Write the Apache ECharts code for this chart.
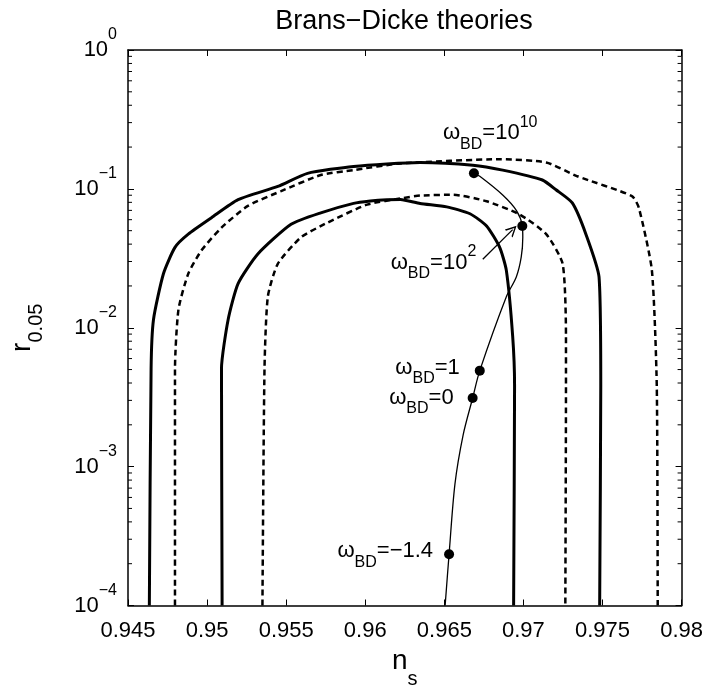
<!DOCTYPE html>
<html><head><meta charset="utf-8">
<script src="https://cdn.jsdelivr.net/npm/echarts@6/dist/echarts.min.js"></script>
<style>html,body{margin:0;padding:0;background:#fff}#c{width:706px;height:694px}</style>
</head><body><div id="c"></div>
<script>
// ---- data ----
const xTickValues = [0.945, 0.95, 0.955, 0.96, 0.965, 0.97, 0.975, 0.98];
const yTickExponents = [-4, -3, -2, -1, 0];
const minorMultipliers = [2, 3, 4, 5, 6, 7, 8, 9];

const outerSolid = [
  [0.94635,1e-4],[0.94646,5.07e-3],[0.94661,0.01143],[0.94724,0.0245],[0.94797,0.0379],
  [0.94881,0.0472],[0.95028,0.0620],[0.95196,0.0836],[0.95447,0.1041],[0.95635,0.1294],
  [0.95926,0.1450],[0.96347,0.1549],[0.96680,0.1482],[0.96869,0.1365],[0.97120,0.1159],
  [0.97206,0.0985],[0.97309,0.0792],[0.97395,0.0472],[0.97478,0.0232],[0.97489,3.84e-3],
  [0.97482,1e-4]
];
const innerSolid = [
  [0.95095,1e-4],[0.95091,5.07e-3],[0.95133,0.01143],[0.95196,0.0208],[0.95321,0.0340],
  [0.95531,0.0556],[0.95719,0.0672],[0.95926,0.0786],[0.96032,0.0818],[0.96138,0.0836],
  [0.96222,0.0840],[0.96347,0.0785],[0.96515,0.0742],[0.96662,0.0662],[0.96767,0.0541],
  [0.96850,0.0379],[0.96892,0.0259],[0.96932,8.7e-3],[0.96944,3.84e-3],[0.96938,1e-4]
];
const outerDashed = [
  [0.94797,1e-4],[0.94797,5.07e-3],[0.94819,0.01353],[0.94881,0.0245],[0.94965,0.0361],
  [0.95091,0.0526],[0.95258,0.0754],[0.95468,0.0964],[0.95719,0.1258],[0.95926,0.1366],
  [0.96222,0.1524],[0.96850,0.1635],[0.97144,0.1549],[0.97341,0.1232],[0.97686,0.0888],
  [0.97730,0.0730],[0.97812,0.0260],[0.97843,3.84e-3],[0.97849,1e-4]
];
const innerDashed = [
  [0.95350,1e-4],[0.95363,5.07e-3],[0.95384,0.01674],[0.95447,0.02886],[0.95593,0.0447],
  [0.95761,0.0571],[0.96012,0.0770],[0.96242,0.0860],[0.96347,0.0895],[0.96557,0.0907],
  [0.96767,0.0814],[0.96976,0.0654],[0.97144,0.0472],[0.97248,0.02886],[0.97269,8.7e-3],
  [0.97269,3.84e-3],[0.97265,1e-4]
];
const omegaPath = [
  [0.96687,0.1294],[0.96724,0.1232],[0.96869,0.0903],[0.96957,0.0695],[0.96993,0.0541],
  [0.96996,0.0447],[0.96986,0.0322],[0.96955,0.02322],[0.96892,0.01674],[0.96724,4.91e-3],
  [0.96679,3.12e-3],[0.96619,1.694e-3],[0.96567,7.48e-4],[0.96530,2.34e-4],[0.96505,1e-4]
];
const omegaNs = [0.96687, 0.96993, 0.96724, 0.96679, 0.96530];
const omegaR  = [0.1294, 0.0541, 4.91e-3, 3.12e-3, 2.34e-4];
const omegaValues = ['10^10', '10^2', '1', '0', '\u22121.4'];
const arrowFrom = [0.96743, 0.03118];
const arrowTo   = [0.96932, 0.0509];

// ---- presentation ----
const FONT = 'Liberation Sans, Arial, Helvetica, sans-serif';
const XMIN = 0.945, XMAX = 0.98, YMIN = 1e-4, YMAX = 1;
const labelLayout = [
  {align:'left',  offset:[-31,-40]},
  {align:'right', offset:[-46, 37]},
  {align:'right', offset:[-20, -3]},
  {align:'right', offset:[-19, 0]},
  {align:'right', offset:[-16, -3]}
];
function omegaText(v){
  const parts = v.split('^');
  let s = '{m|\u03c9}{b|BD}{m|=' + parts[0] + '}';
  if (parts.length > 1) s += '{p|' + parts[1] + '}';
  return s;
}
const richLbl = {
  m:{fontSize:22, fontFamily:FONT, color:'#000', lineHeight:30, verticalAlign:'middle'},
  b:{fontSize:16, fontFamily:FONT, color:'#000', height:8, lineHeight:8, verticalAlign:'bottom'},
  p:{fontSize:16, fontFamily:FONT, color:'#000', height:8, lineHeight:8, verticalAlign:'top'}
};
const minorTicks = [];
yTickExponents.slice(0, -1).forEach(e => minorMultipliers.forEach(m => minorTicks.push([m * Math.pow(10, e)])));

const chart = echarts.init(document.getElementById('c'), null, {renderer:'canvas'});
const axisLine = {show:true, lineStyle:{color:'#000', width:1.5}};
const chevron = 'path://M0,10 L5,0 L10,10 L8.6,10 L5,2.8 L1.4,10 Z';

chart.setOption({
  animation:false,
  backgroundColor:'#fff',
  title:{text:'Brans\u2212Dicke theories', left:404, top:8, padding:0, textAlign:'center',
    textStyle:{fontSize:27, fontWeight:'normal', fontFamily:FONT, color:'#000'}},
  grid:{left:126, right:23, top:50, bottom:81, containLabel:false},
  xAxis:[{
    type:'value', min:XMIN, max:XMAX, interval:0.005, position:'bottom',
    axisLine, splitLine:{show:false},
    axisTick:{inside:true, length:6, lineStyle:{color:'#000', width:1}},
    axisLabel:{margin:14, fontSize:22, fontFamily:FONT, color:'#000',
      formatter:v => Number(v.toFixed(3)).toString()},
    name:'{n|n}{s|s}', nameLocation:'middle', nameGap:36, nameMoveOverlap:false,
    nameTextStyle:{rich:{
      n:{fontSize:28, fontFamily:FONT, color:'#000', lineHeight:40, verticalAlign:'middle'},
      s:{fontSize:20, fontFamily:FONT, color:'#000', height:5, lineHeight:5, verticalAlign:'bottom'}}}
  },{
    type:'value', min:XMIN, max:XMAX, interval:0.005, position:'top',
    axisLine, splitLine:{show:false}, axisLabel:{show:false},
    axisTick:{inside:true, length:6, lineStyle:{color:'#000', width:1}}
  }],
  yAxis:[{
    type:'log', logBase:10, min:YMIN, max:YMAX, position:'left',
    axisLine, splitLine:{show:false},
    axisTick:{inside:true, length:6, lineStyle:{color:'#000', width:1}},
    axisLabel:{margin:11, fontFamily:FONT, color:'#000', showMinLabel:true, showMaxLabel:true,
      formatter:v => {const e = Math.round(Math.log10(v)); return '{t|10}{u|' + (e < 0 ? '\u2212' + (-e) : e) + '}';},
      rich:{
        t:{fontSize:22, fontFamily:FONT, color:'#000', lineHeight:34, verticalAlign:'middle'},
        u:{fontSize:16, fontFamily:FONT, color:'#000', height:4, lineHeight:4, verticalAlign:'top'}}},
    name:'{r|r}{s|0.05}', nameLocation:'middle', nameRotate:90, nameGap:88, nameMoveOverlap:false,
    nameTextStyle:{rich:{
      r:{fontSize:28, fontFamily:FONT, color:'#000', lineHeight:36, verticalAlign:'middle'},
      s:{fontSize:20, fontFamily:FONT, color:'#000', height:7, lineHeight:7, verticalAlign:'bottom'}}}
  },{
    type:'log', logBase:10, min:YMIN, max:YMAX, position:'right',
    axisLine, splitLine:{show:false}, axisLabel:{show:false},
    axisTick:{inside:true, length:6, lineStyle:{color:'#000', width:1}}
  }],
  series:[
    {type:'custom', name:'minorTicks', coordinateSystem:'cartesian2d', silent:true, clip:false,
      data:minorTicks,
      renderItem:(params, api) => {
        const v = api.value(0);
        const l = api.coord([XMIN, v]), r = api.coord([XMAX, v]);
        const st = {stroke:'#000', lineWidth:1};
        return {type:'group', children:[
          {type:'line', shape:{x1:l[0], y1:l[1], x2:l[0] + 4, y2:l[1]}, style:st},
          {type:'line', shape:{x1:r[0], y1:r[1], x2:r[0] - 4, y2:r[1]}, style:st}
        ]};
      }},
    {type:'line', name:'outerSolid', data:outerSolid, showSymbol:false, smooth:0.2,
      lineStyle:{color:'#000', width:3}},
    {type:'line', name:'innerSolid', data:innerSolid, showSymbol:false, smooth:0.2,
      lineStyle:{color:'#000', width:3}},
    {type:'line', name:'outerDashed', data:outerDashed, showSymbol:false, smooth:0.2,
      lineStyle:{color:'#000', width:2.5, type:[6,4]}},
    {type:'line', name:'innerDashed', data:innerDashed, showSymbol:false, smooth:0.2,
      lineStyle:{color:'#000', width:2.5, type:[6,4]}},
    {type:'line', name:'omegaPath', data:omegaPath, showSymbol:false, smooth:0.3,
      lineStyle:{color:'#000', width:1.3}},
    {type:'lines', name:'arrow', coordinateSystem:'cartesian2d', silent:true,
      data:[{coords:[arrowFrom, arrowTo]}],
      symbol:['none', chevron], symbolSize:11,
      lineStyle:{color:'#000', width:1.3, opacity:1, curveness:0}},
    {type:'scatter', name:'omegaPoints', symbol:'circle', symbolSize:10, z:5,
      itemStyle:{color:'#000', opacity:1},
      data:omegaNs.map((x, i) => ({value:[x, omegaR[i]],
        label:{show:true, position:'inside', verticalAlign:'middle', color:'#000', opacity:1,
          align:labelLayout[i].align, offset:labelLayout[i].offset,
          formatter:omegaText(omegaValues[i]), rich:richLbl}}))}
  ]
});
</script></body></html>
